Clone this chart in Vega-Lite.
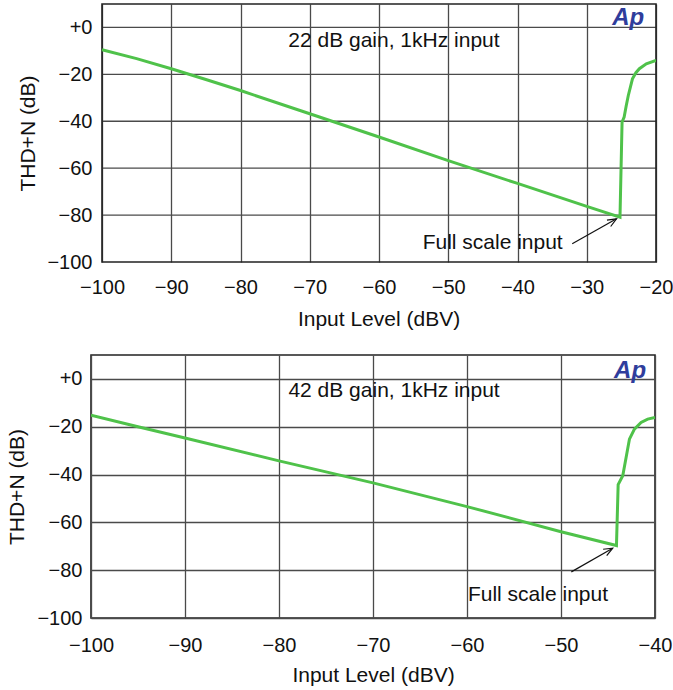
{
  "$schema": "https://vega.github.io/schema/vega-lite/v6.json",
  "padding": {"left": 6, "top": 3, "right": 0, "bottom": 0},
  "background": "white",
  "config": {
    "font": "Liberation Sans",
    "view": {"stroke": "#222222", "strokeWidth": 1.6},
    "axis": {
      "grid": true,
      "gridColor": "#4a4a4a",
      "gridWidth": 1.3,
      "gridOpacity": 1,
      "domain": false,
      "ticks": false,
      "labelFlush": false,
      "labelOverlap": false,
      "labelFont": "Liberation Sans",
      "labelFontSize": 20,
      "labelColor": "#111111",
      "titleFont": "Liberation Sans",
      "titleFontSize": 21,
      "titleFontWeight": "normal",
      "titleColor": "#111111"
    }
  },
  "datasets": {
    "gain22": [
      {"level": -100, "thdn": -9.5},
      {"level": -95, "thdn": -13.3},
      {"level": -90, "thdn": -17.6},
      {"level": -85, "thdn": -22.2},
      {"level": -80, "thdn": -26.9},
      {"level": -70, "thdn": -36.8},
      {"level": -60, "thdn": -46.7},
      {"level": -50, "thdn": -56.8},
      {"level": -40, "thdn": -66.5},
      {"level": -30, "thdn": -76.3},
      {"level": -25.2, "thdn": -80.9},
      {"level": -24.9, "thdn": -40.3},
      {"level": -24.6, "thdn": -38.2},
      {"level": -24.3, "thdn": -33.4},
      {"level": -24.0, "thdn": -29.0},
      {"level": -23.4, "thdn": -21.9},
      {"level": -22.9, "thdn": -19.3},
      {"level": -22.4, "thdn": -17.6},
      {"level": -21.4, "thdn": -15.5},
      {"level": -20, "thdn": -14.1}
    ],
    "gain42": [
      {"level": -100, "thdn": -15.2},
      {"level": -95, "thdn": -20.0},
      {"level": -90, "thdn": -24.7},
      {"level": -80, "thdn": -34.3},
      {"level": -70, "thdn": -43.5},
      {"level": -60, "thdn": -53.4},
      {"level": -50, "thdn": -63.9},
      {"level": -44.1, "thdn": -69.7},
      {"level": -43.92, "thdn": -44.2},
      {"level": -43.43, "thdn": -40.5},
      {"level": -43.07, "thdn": -32.8},
      {"level": -42.72, "thdn": -25.2},
      {"level": -42.19, "thdn": -21.0},
      {"level": -41.48, "thdn": -18.2},
      {"level": -40.78, "thdn": -16.8},
      {"level": -40, "thdn": -16.1}
    ],
    "levels": [
      {"thdn": -80}, {"thdn": -60}, {"thdn": -40}, {"thdn": -20}, {"thdn": 0}
    ],
    "one": [{}]
  },
  "spacing": 25,
  "vconcat": [
    {
      "width": 565,
      "height": 258,
      "view": {"stroke": null},
      "layer": [
        {
          "data": {"name": "levels"},
          "mark": {"type": "rule", "color": "#4a4a4a", "strokeWidth": 1.3},
          "encoding": {
            "x": {"datum": -100},
            "x2": {"datum": -20},
            "y": {
              "field": "thdn", "type": "quantitative", "title": "THD+N (dB)",
              "scale": {"domain": [-100, 10], "nice": false},
              "axis": {"values": [-100, -80, -60, -40, -20, 0], "labelExpr": "datum.value == 0 ? '+0' : datum.label", "title": "THD+N (dB)", "grid": false, "offset": -11, "labelPadding": 10, "titlePadding": 8}
            }
          }
        },
        {
          "data": {"name": "one"},
          "mark": {"type": "rect", "filled": false, "color": "#222222", "strokeWidth": 1.6},
          "encoding": {"x": {"datum": -100}, "x2": {"datum": -20}, "y": {"datum": -100}, "y2": {"datum": 10}}
        },
        {
          "data": {"name": "gain22"},
          "mark": {"type": "line", "color": "#4fc24a", "strokeWidth": 3, "clip": true},
          "encoding": {
            "x": {
              "field": "level", "type": "quantitative",
              "scale": {"domain": [-101.59, -20], "nice": false, "zero": false},
              "axis": {"values": [-100, -90, -80, -70, -60, -50, -40, -30, -20], "title": "Input Level (dBV)", "labelPadding": 15, "titlePadding": 11, "titleX": 287.5}
            },
            "y": {
              "field": "thdn", "type": "quantitative", "title": "THD+N (dB)",
              "scale": {"domain": [-100, 10], "nice": false},
              "axis": {"values": [-100, -80, -60, -40, -20, 0], "labelExpr": "datum.value == 0 ? '+0' : datum.label", "title": "THD+N (dB)", "grid": false, "offset": -11, "labelPadding": 10, "titlePadding": 8}
            }
          }
        },
        {
          "data": {"name": "one"},
          "mark": {"type": "text", "text": "22 dB gain, 1kHz input", "fontSize": 21, "align": "left", "baseline": "alphabetic", "color": "#111111"},
          "encoding": {"x": {"datum": -73.1}, "y": {"datum": -8.2}}
        },
        {
          "data": {"name": "one"},
          "mark": {"type": "text", "text": "Full scale input", "fontSize": 21, "align": "left", "baseline": "alphabetic", "color": "#111111"},
          "encoding": {"x": {"datum": -53.7}, "y": {"datum": -94.4}}
        },
        {
          "data": {"name": "one"},
          "mark": {"type": "rule", "color": "#111111", "strokeWidth": 1.2},
          "encoding": {"x": {"datum": -32.1}, "y": {"datum": -92.2}, "x2": {"datum": -25.7}, "y2": {"datum": -81.6}}
        },
        {
          "data": {"name": "one"},
          "mark": {"type": "point", "shape": "M-0.5,1.2L0,0L0.5,1.2", "filled": false, "stroke": "#111111", "strokeWidth": 1.2, "size": 220, "angle": 60, "opacity": 1},
          "encoding": {"x": {"datum": -25.7}, "y": {"datum": -81.6}}
        },
        {
          "data": {"name": "one"},
          "mark": {"type": "text", "text": "Ap", "fontSize": 24, "fontWeight": "bold", "fontStyle": "italic", "align": "right", "baseline": "alphabetic", "color": "#2f3d9c"},
          "encoding": {"x": {"datum": -21.7}, "y": {"datum": 0.9}}
        }
      ]
    },
    {
      "width": 564,
      "height": 263,
      "layer": [
        {
          "data": {"name": "gain42"},
          "mark": {"type": "line", "color": "#4fc24a", "strokeWidth": 3, "clip": true},
          "encoding": {
            "x": {
              "field": "level", "type": "quantitative",
              "scale": {"domain": [-100, -40], "nice": false},
              "axis": {"values": [-100, -90, -80, -70, -60, -50, -40], "title": "Input Level (dBV)", "labelPadding": 17, "titlePadding": 9}
            },
            "y": {
              "field": "thdn", "type": "quantitative",
              "scale": {"domain": [-100, 10], "nice": false},
              "axis": {"values": [-100, -80, -60, -40, -20, 0], "labelExpr": "datum.value == 0 ? '+0' : datum.label", "title": "THD+N (dB)", "labelPadding": 9, "titlePadding": 9}
            }
          }
        },
        {
          "data": {"name": "one"},
          "mark": {"type": "text", "text": "42 dB gain, 1kHz input", "fontSize": 21, "align": "left", "baseline": "alphabetic", "color": "#111111"},
          "encoding": {"x": {"datum": -79.0}, "y": {"datum": -7.6}}
        },
        {
          "data": {"name": "one"},
          "mark": {"type": "text", "text": "Full scale input", "fontSize": 21, "align": "left", "baseline": "alphabetic", "color": "#111111"},
          "encoding": {"x": {"datum": -59.9}, "y": {"datum": -92.7}}
        },
        {
          "data": {"name": "one"},
          "mark": {"type": "rule", "color": "#111111", "strokeWidth": 1.2},
          "encoding": {"x": {"datum": -48.9}, "y": {"datum": -80.7}, "x2": {"datum": -44.5}, "y2": {"datum": -70.8}}
        },
        {
          "data": {"name": "one"},
          "mark": {"type": "point", "shape": "M-0.5,1.2L0,0L0.5,1.2", "filled": false, "stroke": "#111111", "strokeWidth": 1.2, "size": 220, "angle": 61, "opacity": 1},
          "encoding": {"x": {"datum": -44.5}, "y": {"datum": -70.8}}
        },
        {
          "data": {"name": "one"},
          "mark": {"type": "text", "text": "Ap", "fontSize": 24, "fontWeight": "bold", "fontStyle": "italic", "align": "right", "baseline": "alphabetic", "color": "#2f3d9c"},
          "encoding": {"x": {"datum": -40.95}, "y": {"datum": 0.3}}
        }
      ]
    }
  ]
}
